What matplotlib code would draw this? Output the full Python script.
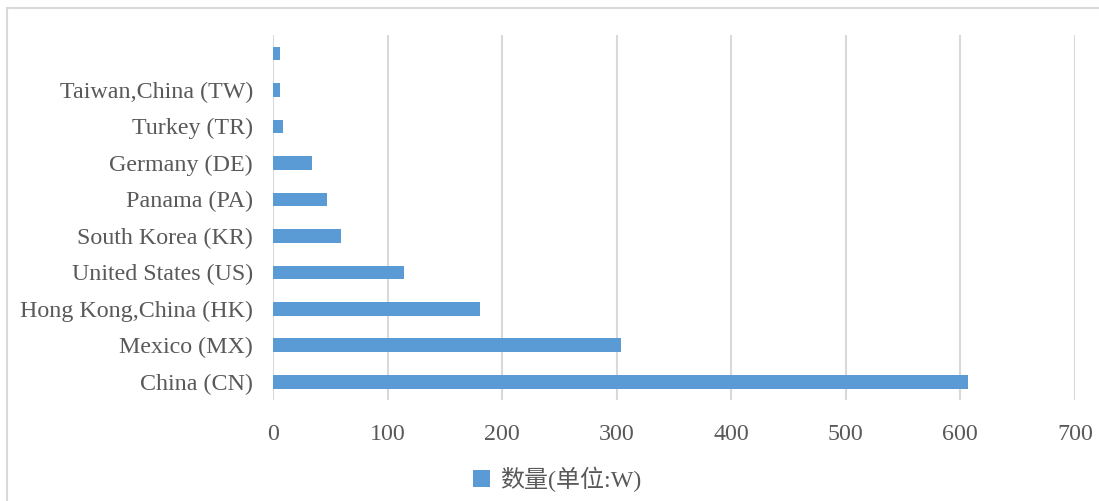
import matplotlib.pyplot as plt
from matplotlib.patches import Rectangle

# Dados (de baixo para cima)
countries = ['China (CN)', 'Mexico (MX)', 'Hong Kong,China (HK)', 'United States (US)',
             'South Korea (KR)', 'Panama (PA)', 'Germany (DE)', 'Turkey (TR)',
             'Taiwan,China (TW)', '']
values = [607, 304, 181, 114, 59, 47, 34, 8.5, 6, 6]
x_ticks = [0, 100, 200, 300, 400, 500, 600, 700]
legend_label = '数量(单位:W)'

bar_color = '#5b9bd5'
text_color = '#595959'
grid_color = '#d9d9d9'

fig = plt.figure(figsize=(10.99, 5.01), dpi=100)
ax = fig.add_axes([0.2484, 0.2016, 0.7296, 0.7285])

ax.barh(range(len(countries)), values, height=0.37, color=bar_color,
        label=legend_label, zorder=3)

ax.set_xlim(0, 700)
ax.set_ylim(-0.5, len(countries) - 0.5)
ax.set_xticks(x_ticks)
ax.set_yticks(range(len(countries)))
ax.set_yticklabels(countries)
ax.xaxis.grid(True, color=grid_color, linewidth=1.5, zorder=0)

for s in ax.spines.values():
    s.set_visible(False)
ax.tick_params(axis='both', length=0, colors=text_color, labelsize=17.3)
ax.tick_params(axis='x', pad=17)
ax.tick_params(axis='y', pad=14.5)
for lbl in ax.get_xticklabels() + ax.get_yticklabels():
    lbl.set_family('Liberation Serif')

leg = fig.legend(loc='center', bbox_to_anchor=(0.507, 0.043), frameon=False,
                 handlelength=0.7, handleheight=0.7, handletextpad=0.4,
                 prop={'family': ['Liberation Serif', 'Noto Sans CJK SC'], 'size': 17.3})
for t in leg.get_texts():
    t.set_color(text_color)

# Moldura cinza
fig.patches.append(Rectangle((6.5 / 1099, -0.05), 1.2, 1 - 7.5 / 501 + 0.05,
                             transform=fig.transFigure, fill=False,
                             edgecolor='#d9d9d9', linewidth=1.5))

fig.savefig('out.png', dpi=100)
plt.close(fig)
